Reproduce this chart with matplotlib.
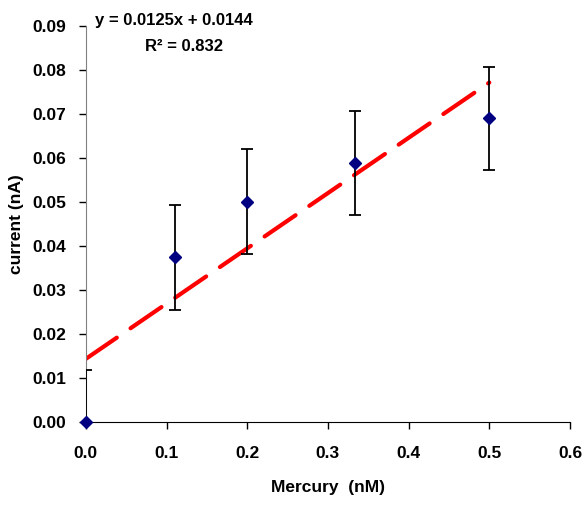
import numpy as np
import matplotlib as mpl
mpl.use('Agg')
import matplotlib.pyplot as plt

mercury = [0.0, 0.111, 0.2, 0.333, 0.5]
current = [0.0, 0.0374, 0.0501, 0.0589, 0.0690]
errors = [0.0118, 0.0119, 0.0120, 0.0118, 0.0117]
xticks = [0.0, 0.1, 0.2, 0.3, 0.4, 0.5, 0.6]
yticks = [0.00, 0.01, 0.02, 0.03, 0.04, 0.05, 0.06, 0.07, 0.08, 0.09]

plt.rcParams['font.family'] = ['Liberation Sans', 'DejaVu Sans']
plt.rcParams['font.weight'] = 'bold'

fig = plt.figure(figsize=(5.84, 5.05), dpi=100)
ax = fig.add_axes([0.147, 0.164, 0.829, 0.785])

# linear trendline
slope, intercept = np.polyfit(mercury, current, 1)
fx = np.array([0.0, max(mercury)])
ax.plot(fx, slope * fx + intercept, color='#ff0000', linewidth=3,
        linestyle=(0, (9, 4)), dash_capstyle='round', zorder=2)

ax.errorbar(mercury, current, yerr=errors, fmt='none',
            ecolor='black', elinewidth=1.3, capsize=4,
            capthick=1.3, zorder=3)
ax.plot(mercury, current, 'D', color='#000080', markersize=6,
        zorder=4, clip_on=False)

ax.set_xlim(0, 0.6)
ax.set_ylim(0, 0.09)
ax.set_xticks(xticks)
ax.set_yticks(yticks)
ax.set_xticklabels(['%.1f' % v for v in xticks], fontsize=12.5, fontweight='bold')
ax.set_yticklabels(['%.2f' % v for v in yticks], fontsize=12.5, fontweight='bold')
ax.tick_params(direction='out', length=5, width=1, pad=9)
ax.tick_params(axis='x', pad=12)

for s in ['top', 'right']:
    ax.spines[s].set_visible(False)
ax.spines['left'].set_color('#808080')
ax.spines['bottom'].set_color('black')

ax.set_xlabel('Mercury  (nM)', fontsize=12.5, fontweight='bold', labelpad=14)
ax.set_ylabel('current (nA)', fontsize=12.5, fontweight='bold', labelpad=6)

ax.text(0.109, 0.0912, 'y = 0.0125x + 0.0144', fontsize=12, fontweight='bold',
        ha='center', va='center')
ax.text(0.122, 0.0854, 'R² = 0.832', fontsize=12, fontweight='bold',
        ha='center', va='center')

plt.savefig('out.png', dpi=100)
